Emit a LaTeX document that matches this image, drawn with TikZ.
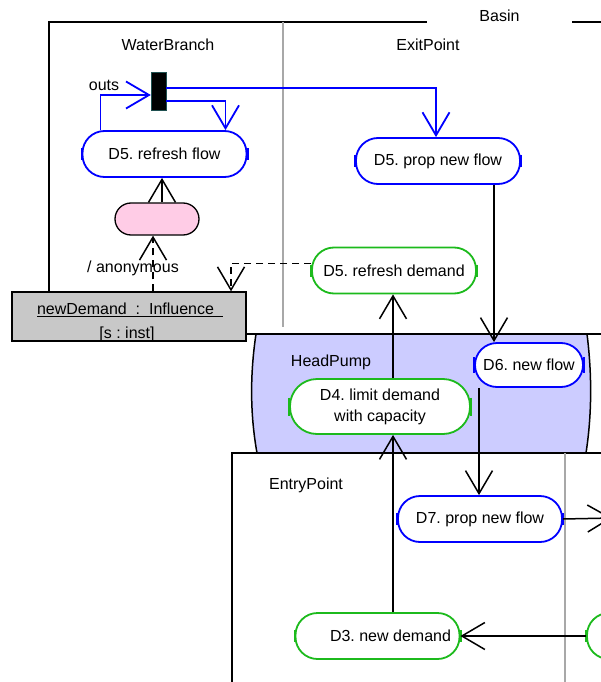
\documentclass[tikz,border=0pt]{standalone}
\usepackage{fontspec}
\setmainfont{Liberation Sans}
\usetikzlibrary{arrows.meta}
\definecolor{Flow}{HTML}{0000FF}
\definecolor{Demand}{HTML}{1CBA1C}
\definecolor{Pump}{HTML}{CCCCFF}
\definecolor{Anon}{HTML}{FFCCE6}
\definecolor{Inst}{HTML}{C8C8C8}
\definecolor{Lane}{HTML}{A8A8A8}
\definecolor{ForkEdge}{HTML}{1F5050}
\frenchspacing

\begin{document}
\begin{tikzpicture}[x=1pt,y=-1pt,>={Straight Barb[length=23pt,width=27pt]},
    font=\fontsize{16}{21}\selectfont,
    act/.style={draw=#1,line width=1.8pt,fill=white,rounded corners=22pt,
      minimum width=164pt,minimum height=46pt,inner sep=0pt,align=center},
    flow/.style={draw=Flow,line width=1.8pt},
    link/.style={draw=black,line width=1.5pt},
    frame/.style={draw=black,line width=1.5pt}]
    \useasboundingbox (0,0) rectangle (601,682);
    \clip (0,0) rectangle (601,682);

    % HeadPump partition
    \fill[Pump] (256,334) .. controls (250,374) and (250,414) .. (257,453)
      -- (586,453) .. controls (592,414) and (592,374) .. (587,334) -- cycle;
    \draw[frame] (256,334) .. controls (250,374) and (250,414) .. (257,453);
    \draw[frame] (587,334) .. controls (592,374) and (592,414) .. (586,453);

    % Basin and EntryPoint frames
    \draw[frame] (49,22) rectangle (640,334);
    \draw[Lane,line width=1.3pt] (283,22) -- (283,327);
    \draw[frame] (232,453) rectangle (640,720);
    \draw[Lane,line width=1.3pt] (565,453) -- (565,682);
    \node[fill=white,minimum width=145pt,minimum height=20pt,inner sep=0pt] (basin) at (499.5,16) {Basin};

    \node (wb) at (168,45) {WaterBranch};
    \node (ep) at (428,45) {ExitPoint};
    \node (hp) at (331,362) {HeadPump};
    \node (en) at (306,485) {EntryPoint};

    \node[fill=black,draw=ForkEdge,minimum width=15pt,minimum height=38pt,inner sep=0pt] (fork) at (158.5,91) {};
    \node (outs) at (104,85) {outs};
    \node[act=Flow] (refflow) at (164.5,154) {D5. refresh flow};
    \node[act=Flow] (propflow) at (438,161) {D5. prop new flow};
    \node[draw,line width=1.3pt,fill=Anon,rounded corners=16pt,minimum width=84pt,minimum height=32pt,inner sep=0pt] (anon) at (157,219) {};
    \node (anonlbl) at (133,268) {/ anonymous};
    \node[act=Demand] (refdem) at (394,270.5) {D5. refresh demand};
    \node[act=Flow,minimum width=108pt,minimum height=44pt] (newflow) at (529,365) {D6. new flow};
    \node[act=Demand,minimum width=180pt,minimum height=55pt,rounded corners=27pt] (limdem) at (380,406.5) {D4. limit demand\\with capacity};
    \node[act=Flow] (propentry) at (480,519) {D7. prop new flow};
    \node[act=Demand] (newdem) at (377.5,636) {\hspace*{26pt}D3. new demand};
    \node[act=Demand] (nextdem) at (669,636) {};
    \coordinate (offright) at (612,518);

    \foreach \n/\c/\h in {refflow/Flow/6,propflow/Flow/6,refdem/Demand/6,newflow/Flow/8,
        limdem/Demand/9,propentry/Flow/6,newdem/Demand/6,nextdem/Demand/6}
      \draw[\c,line width=2.2pt] ([yshift=\h pt]\n.west) -- ([yshift=-\h pt]\n.west)
        ([yshift=\h pt]\n.east) -- ([yshift=-\h pt]\n.east);

    \draw[flow,->] ([yshift=3pt]fork.east) -| ([xshift=-2pt]propflow.north);
    \draw[flow,->] ([yshift=-10pt]fork.east) -| ([xshift=61pt]refflow.north);
    \draw[flow,->] ([xshift=-64pt]refflow.north) |- ([yshift=-4pt]fork.west);
    \draw[link,->] ([xshift=5pt]anon.north) -- ([xshift=5pt]anon.north |- refflow.south);
    \draw[link,->] ([xshift=56pt]propflow.south) -- ([xshift=56pt]propflow.south |- newflow.north);
    \draw[link,->] ([xshift=13pt]limdem.north) -- ([xshift=13pt]limdem.north |- refdem.south);
    \draw[link,->] ([xshift=-50pt]newflow.south) -- ([xshift=-50pt]newflow.south |- propentry.north);
    \draw[link,->] ([xshift=15.5pt]newdem.north) -- ([xshift=15.5pt]newdem.north |- limdem.south);
    \draw[link,->] (propentry.east) -- (offright);
    \draw[link,->] (nextdem.west) -- (newdem.east);

    % influence object
    \node[draw,line width=1.3pt,fill=Inst,minimum width=234pt,minimum height=49pt,inner sep=0pt] (inst) at (129,316.5) {};
    \node (instname) at (130,310) {\underline{newDemand~~:~~Influence~~}};
    \node (inststate) at (127,334) {[s : inst]};
    \draw[link,dash pattern=on 7pt off 5pt,->] ([xshift=-4pt]anon.south |- inst.north) -- ([xshift=-4pt]anon.south);
    \draw[link,dash pattern=on 7pt off 5pt,->] ([yshift=7pt]refdem.west) -| ([xshift=102pt]inst.north);
  \end{tikzpicture}
\end{document}
